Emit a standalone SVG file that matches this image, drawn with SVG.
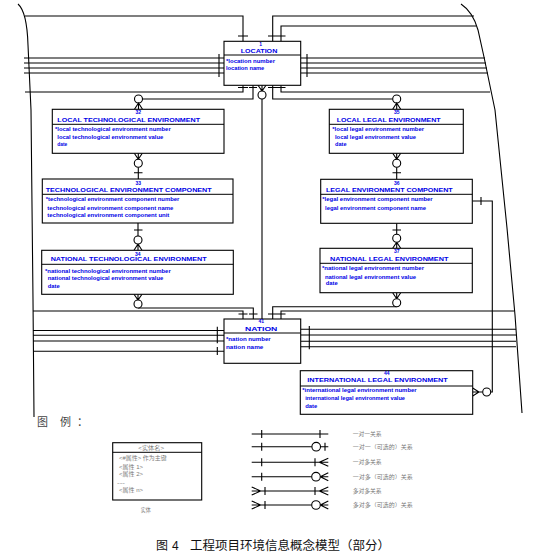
<svg xmlns="http://www.w3.org/2000/svg" width="538" height="560" viewBox="0 0 538 560">
<style>
.bx{fill:#fff;stroke:#000;stroke-width:1.1}
.dv{stroke:#000;stroke-width:1}
.c{fill:none;stroke:#000;stroke-width:1.1}
.o{fill:#fff;stroke:#000;stroke-width:1.1}
.t{font-family:"Liberation Sans",Arial,sans-serif;font-weight:bold;font-size:5px;fill:#0000e6}
.m{text-anchor:middle}
.lg{font-family:"Liberation Sans","Noto Sans CJK SC",sans-serif;font-size:5.5px;fill:#777}
.hd{font-family:"Liberation Sans","Noto Sans CJK SC",sans-serif;font-size:11px;fill:#444}
.cap{font-family:"Liberation Sans","Noto Sans CJK SC",sans-serif;font-size:12px;fill:#111}
</style>
<rect width="538" height="560" fill="#fff"/>

<g id="connectors">
<!-- boundary curves -->
<path class="c" d="M18,4 Q27,12 28,45 L31,110 L33,300 L34,417"/>
<path class="c" d="M461,4 Q473,12 478,30 L484,57 L495,110 L507,228 L515,315 L522,413"/>

<!-- LOCATION top -->
<path class="c" d="M25,16 H243 V41.3 M238,36 H248"/>
<path class="c" d="M474,16 H272.7 V41.3 M268,36 H277"/>
<path class="c" d="M476,26 H281 V41.3 M277,36 H285.5"/>
<!-- LOCATION left/right -->
<path class="c" d="M24,58 H224 M24,63 H224 M24,68 H224 M24,73 H224 M219,54 V77"/>
<path class="c" d="M300.7,58 H485 M300.7,63 H486 M300.7,68 H487 M300.7,73 H488 M307,54 V77"/>
<!-- LOCATION bottom -->
<path class="c" d="M25,92 H243 V85.3 M238,87.5 H248"/>
<path class="c" d="M253,85.3 V99 H142.5 M249,87.5 H257"/>
<path class="c" d="M258,85.3 L262,91 L266,85.3 M262,85.3 V91 M262,99 V319"/>
<circle class="o" cx="262" cy="95" r="4"/>
<path class="c" d="M272.7,85.3 V99 H392.7 M268,87.5 H277"/>
<path class="c" d="M281,85.3 V92 H490 M277,87.5 H285.5"/>
<!-- to local tech / local legal -->
<circle class="o" cx="138.5" cy="99" r="4"/>
<path class="c" d="M134.5,109.3 L138.5,103 L142.5,109.3 M138.5,103 V109.3"/>
<circle class="o" cx="396.7" cy="99" r="4"/>
<path class="c" d="M392.7,109.3 L396.7,103 L400.7,109.3 M396.7,103 V109.3"/>

<!-- local tech -> tech comp -->
<path class="c" d="M134.3,153.3 L138.3,159.3 L142.3,153.3 M138.3,153.3 V159.3 M138.3,167.3 V179 M134,172.7 H142.5"/>
<circle class="o" cx="138.3" cy="163.3" r="4"/>
<!-- local legal -> legal comp -->
<path class="c" d="M392.7,153.3 L396.7,159.3 L400.7,153.3 M396.7,153.3 V159.3 M396.7,167.3 V179.3 M392.5,172.7 H401"/>
<circle class="o" cx="396.7" cy="163.3" r="4"/>

<!-- tech comp -> national tech -->
<path class="c" d="M138,223 V236 M134,230 H142.5 M134,250.3 L138,244 L142,250.3 M138,244 V250.3"/>
<circle class="o" cx="138" cy="240" r="4"/>
<!-- legal comp -> national legal -->
<path class="c" d="M396.7,223.3 V234.3 M392.5,230 H401 M392.7,248.3 L396.7,242.3 L400.7,248.3 M396.7,242.3 V248.3"/>
<circle class="o" cx="396.7" cy="238.3" r="4"/>

<!-- national tech -> NATION -->
<path class="c" d="M134,294.3 L138,300 L142,294.3 M138,294.3 V300 M138,308 H253.3 V319 M249,314 H257.5"/>
<circle class="o" cx="138" cy="304" r="4"/>
<!-- national legal -> NATION -->
<path class="c" d="M392.7,292.7 L396.7,298.7 L400.7,292.7 M396.7,292.7 V298.7 M396.7,306.7 H272.7 V319 M268,314 H277"/>
<circle class="o" cx="396.7" cy="302.7" r="4"/>
<!-- NATION top outer lines -->
<path class="c" d="M33,311 H243 V319 M238.5,314 H247.5"/>
<path class="c" d="M281,319 V311 H514 M277,314 H285.5"/>
<!-- NATION left/right -->
<path class="c" d="M33,330.5 H224 M33,335.3 H224 M33,341 H224 M33,351.3 H224 M217.3,326.7 V343.3 M217.3,347 V355"/>
<path class="c" d="M300.7,329.3 H516 M300.7,335 H516 M300.7,341.3 H516 M300.7,346.7 H516 M309.3,326 V349.3"/>

<!-- legal comp -> international -->
<path class="c" d="M472.3,201 H492.3 V392 H490.7 M481,197 V205 M472.7,388 L479,392 L472.7,396 M472.7,392 H482.7"/>
<circle class="o" cx="486.7" cy="392" r="4"/>
</g>

<g id="location">
<rect class="bx" x="224" y="41.3" width="76.7" height="44"/>
<line class="dv" x1="224" y1="55" x2="300.7" y2="55"/>
<text class="t m" x="260.7" y="45.5">1</text>
<text class="t" x="240.7" y="53" textLength="36.6" lengthAdjust="spacingAndGlyphs">LOCATION</text>
<text class="t" x="226" y="62.5" textLength="49" lengthAdjust="spacingAndGlyphs">*location number</text>
<text class="t" x="226" y="70" textLength="38.3" lengthAdjust="spacingAndGlyphs">location name</text>
</g>

<g id="local-tech">
<rect class="bx" x="52.3" y="109.3" width="171.7" height="44"/>
<line class="dv" x1="52.3" y1="124.3" x2="224" y2="124.3"/>
<text class="t m" x="138.3" y="114.1">32</text>
<text class="t" x="57.3" y="121.8" textLength="142.7" lengthAdjust="spacingAndGlyphs">LOCAL TECHNOLOGICAL ENVIRONMENT</text>
<text class="t" x="55" y="131.1" textLength="115.7" lengthAdjust="spacingAndGlyphs">*local technological environment number</text>
<text class="t" x="57.3" y="138.5" textLength="106" lengthAdjust="spacingAndGlyphs">local technological environment value</text>
<text class="t" x="57.3" y="146.3" textLength="10" lengthAdjust="spacingAndGlyphs">date</text>
</g>

<g id="tech-component">
<rect class="bx" x="42.3" y="179" width="190.7" height="44"/>
<line class="dv" x1="42.3" y1="194.3" x2="233" y2="194.3"/>
<text class="t m" x="138.3" y="185">33</text>
<text class="t" x="45.7" y="192" textLength="166" lengthAdjust="spacingAndGlyphs">TECHNOLOGICAL ENVIRONMENT COMPONENT</text>
<text class="t" x="45.7" y="201.3" textLength="133.6" lengthAdjust="spacingAndGlyphs">*technological environment component number</text>
<text class="t" x="47.3" y="209.6" textLength="126" lengthAdjust="spacingAndGlyphs">technological environment component name</text>
<text class="t" x="47.3" y="216.8" textLength="122" lengthAdjust="spacingAndGlyphs">technological environment component unit</text>
</g>

<g id="national-tech">
<rect class="bx" x="41.7" y="250.3" width="191.6" height="44"/>
<line class="dv" x1="41.7" y1="264.3" x2="233.3" y2="264.3"/>
<text class="t m" x="137.7" y="256">34</text>
<text class="t" x="50.7" y="261" textLength="156" lengthAdjust="spacingAndGlyphs">NATIONAL TECHNOLOGICAL ENVIRONMENT</text>
<text class="t" x="45" y="272.5" textLength="125.7" lengthAdjust="spacingAndGlyphs">*national technological environment number</text>
<text class="t" x="47.7" y="279.8" textLength="115.6" lengthAdjust="spacingAndGlyphs">national technological environment value</text>
<text class="t" x="47.7" y="287.5" textLength="12" lengthAdjust="spacingAndGlyphs">date</text>
</g>

<g id="local-legal">
<rect class="bx" x="329.3" y="109.3" width="134" height="44"/>
<line class="dv" x1="329.3" y1="124.3" x2="463.3" y2="124.3"/>
<text class="t m" x="396.7" y="114.1">35</text>
<text class="t" x="336.7" y="121.8" textLength="104" lengthAdjust="spacingAndGlyphs">LOCAL LEGAL ENVIRONMENT</text>
<text class="t" x="332.3" y="131.1" textLength="91.7" lengthAdjust="spacingAndGlyphs">*local legal environment number</text>
<text class="t" x="335" y="138.5" textLength="81" lengthAdjust="spacingAndGlyphs">local legal environment value</text>
<text class="t" x="335" y="146.1" textLength="11.5" lengthAdjust="spacingAndGlyphs">date</text>
</g>

<g id="legal-component">
<rect class="bx" x="320.7" y="179.3" width="151.6" height="44"/>
<line class="dv" x1="320.7" y1="194.3" x2="472.3" y2="194.3"/>
<text class="t m" x="396.7" y="185">36</text>
<text class="t" x="326" y="192" textLength="126.7" lengthAdjust="spacingAndGlyphs">LEGAL ENVIRONMENT COMPONENT</text>
<text class="t" x="322.3" y="201.3" textLength="110.4" lengthAdjust="spacingAndGlyphs">*legal environment component number</text>
<text class="t" x="325" y="209.6" textLength="101" lengthAdjust="spacingAndGlyphs">legal environment component name</text>
</g>

<g id="national-legal">
<rect class="bx" x="320" y="248.3" width="152.3" height="44.4"/>
<line class="dv" x1="320" y1="263.3" x2="472.3" y2="263.3"/>
<text class="t m" x="396.7" y="252.8">37</text>
<text class="t" x="330" y="260.8" textLength="118.3" lengthAdjust="spacingAndGlyphs">NATIONAL LEGAL ENVIRONMENT</text>
<text class="t" x="322" y="270.1" textLength="102" lengthAdjust="spacingAndGlyphs">*national legal environment number</text>
<text class="t" x="325" y="278.5" textLength="91" lengthAdjust="spacingAndGlyphs">national legal environment value</text>
<text class="t" x="325.7" y="285.1" textLength="12" lengthAdjust="spacingAndGlyphs">date</text>
</g>

<g id="nation">
<rect class="bx" x="224" y="319" width="76.7" height="44.3"/>
<line class="dv" x1="224" y1="333" x2="300.7" y2="333"/>
<text class="t m" x="261.3" y="323">41</text>
<text class="t" x="245" y="330.5" textLength="32.3" lengthAdjust="spacingAndGlyphs">NATION</text>
<text class="t" x="226" y="341" textLength="44.7" lengthAdjust="spacingAndGlyphs">*nation number</text>
<text class="t" x="226" y="348.5" textLength="37.3" lengthAdjust="spacingAndGlyphs">nation name</text>
</g>

<g id="international-legal">
<rect class="bx" x="300.3" y="370.7" width="172.4" height="43.6"/>
<line class="dv" x1="300.3" y1="386" x2="472.7" y2="386"/>
<text class="t m" x="386.7" y="375">44</text>
<text class="t" x="307.3" y="382" textLength="140.4" lengthAdjust="spacingAndGlyphs">INTERNATIONAL LEGAL ENVIRONMENT</text>
<text class="t" x="302.3" y="392" textLength="114.4" lengthAdjust="spacingAndGlyphs">*international legal environment number</text>
<text class="t" x="305.3" y="399.8" textLength="99.7" lengthAdjust="spacingAndGlyphs">international legal environment value</text>
<text class="t" x="305.3" y="407.5" textLength="12" lengthAdjust="spacingAndGlyphs">date</text>
</g>

<g id="legend">
<text class="hd" x="37 60 77" y="426">图例：</text>
<g id="legend-entity">
<rect class="bx" x="112.7" y="442.7" width="89" height="57.3"/>
<line class="dv" x1="112.7" y1="452.3" x2="201.7" y2="452.3"/>
<text class="lg" x="138.3" y="449.6" textLength="25.7" lengthAdjust="spacingAndGlyphs">&lt;实体名&gt;</text>
<text class="lg" x="119" y="460.2" textLength="47.7" lengthAdjust="spacingAndGlyphs">&lt;#属性&gt; 作为主键</text>
<text class="lg" x="119" y="469.4" textLength="24" lengthAdjust="spacingAndGlyphs">&lt;属性 1&gt;</text>
<text class="lg" x="119" y="476.2" textLength="24" lengthAdjust="spacingAndGlyphs">&lt;属性 2&gt;</text>
<text class="lg" x="117" y="485" textLength="8" lengthAdjust="spacingAndGlyphs">---</text>
<text class="lg" x="119" y="491.9" textLength="24" lengthAdjust="spacingAndGlyphs">&lt;属性 n&gt;</text>
<text class="lg" x="140.7" y="512" textLength="10" lengthAdjust="spacingAndGlyphs">实体</text>
</g>
<g id="legend-lines">
<path class="c" d="M251.7,434 H328.3 M261.7,430 V438 M320,430 V438"/>
<path class="c" d="M251.7,446.7 H311.9 M320.5,446.7 H328.3 M261.7,442.7 V450.7 M325,442.7 V450.7"/>
<circle class="o" cx="316.2" cy="446.7" r="4.3"/>
<path class="c" d="M251.7,462.3 H328.3 M261.7,458.3 V466.3 M315,458.3 V466.3 M328.3,458.3 L319.3,462.3 L328.3,466.3"/>
<path class="c" d="M251.7,476.7 H311.7 M320.3,476.7 H328.3 M261.7,472.7 V480.7 M328.3,472.7 L320.3,476.7 L328.3,480.7"/>
<circle class="o" cx="316" cy="476.7" r="4.3"/>
<path class="c" d="M251.7,491 H328.3 M251.7,487 L260.7,491 L251.7,495 M265,487 V495 M315,487 V495 M328.3,487 L319.3,491 L328.3,495"/>
<path class="c" d="M251.7,505 H311.7 M320.3,505 H328.3 M251.7,501 L260.7,505 L251.7,509 M265,501 V509 M328.3,501 L320.3,505 L328.3,509"/>
<circle class="o" cx="316" cy="505" r="4.3"/>
<text class="lg" x="352.7" y="436" textLength="29" lengthAdjust="spacingAndGlyphs">一对一关系</text>
<text class="lg" x="352.7" y="448.7" textLength="60" lengthAdjust="spacingAndGlyphs">一对一（可选的）关系</text>
<text class="lg" x="352.7" y="464.3" textLength="29" lengthAdjust="spacingAndGlyphs">一对多关系</text>
<text class="lg" x="352.7" y="478.7" textLength="60" lengthAdjust="spacingAndGlyphs">一对多（可选的）关系</text>
<text class="lg" x="352.7" y="493" textLength="29" lengthAdjust="spacingAndGlyphs">多对多关系</text>
<text class="lg" x="352.7" y="507" textLength="60" lengthAdjust="spacingAndGlyphs">多对多（可选的）关系</text>
</g>
</g>

<g id="caption">
<text class="cap" x="156" y="549.5">图</text>
<text class="cap" x="172" y="549.5">4</text>
<text class="cap" x="190" y="549.5" textLength="200" lengthAdjust="spacingAndGlyphs">工程项目环境信息概念模型（部分）</text>
</g>
</svg>
